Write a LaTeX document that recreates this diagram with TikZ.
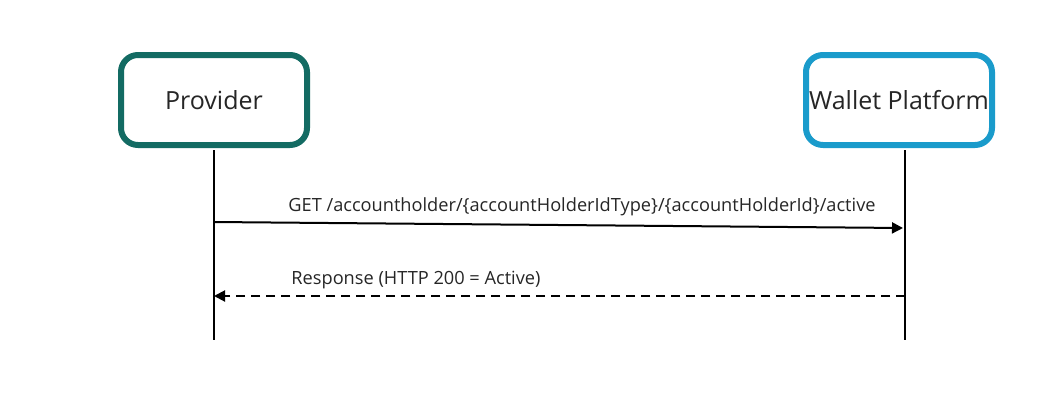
\documentclass[tikz,border=0pt]{standalone}
\usepackage{fontspec}
\setmainfont{Open Sans}
\usetikzlibrary{arrows.meta}
\definecolor{provc}{HTML}{136B63}
\definecolor{wallc}{HTML}{1A9BCB}
\begin{document}
\begin{tikzpicture}[x=1pt,y=-1pt,
  actor/.style={draw, line width=6pt, rounded corners=17pt, fill=white, minimum width=186pt, minimum height=90pt, inner sep=0pt, font=\fontsize{25}{29}\selectfont, text=black!85},
  life/.style={line width=1.5pt},
  msg/.style={line width=2pt, -{Triangle[length=11pt,width=11pt]}},
  lbl/.style={font=\fontsize{18.2}{21}\selectfont, text=black!85}]
\useasboundingbox (0,0) rectangle (1058,402);
\node[actor, draw=provc] (prov) at (214,100) {Provider};
\node[actor, draw=wallc] (wall) at (899,100) {Wallet Platform};
\coordinate (pb) at (214,340);
\coordinate (wb) at (905,340);
\draw[life] (214,150) coordinate (pt) -- (pb);
\draw[life] (905,150) coordinate (wt) -- (wb);
\coordinate (p1) at (214,222);
\coordinate (w1) at (903,228);
\coordinate (w2) at (905,296);
\coordinate (p2) at (214,296);
\draw[msg] (p1) -- (w1);
\draw[msg, dashed, dash pattern=on 9pt off 6pt] (w2) -- (p2);
\node[lbl] (l1) at (582,207) {GET /accountholder/\{accountHolderIdType\}/\{accountHolderId\}/active};
\node[lbl] (l2) at (416,280) {Response (HTTP 200 = Active)};
\end{tikzpicture}
\end{document}
